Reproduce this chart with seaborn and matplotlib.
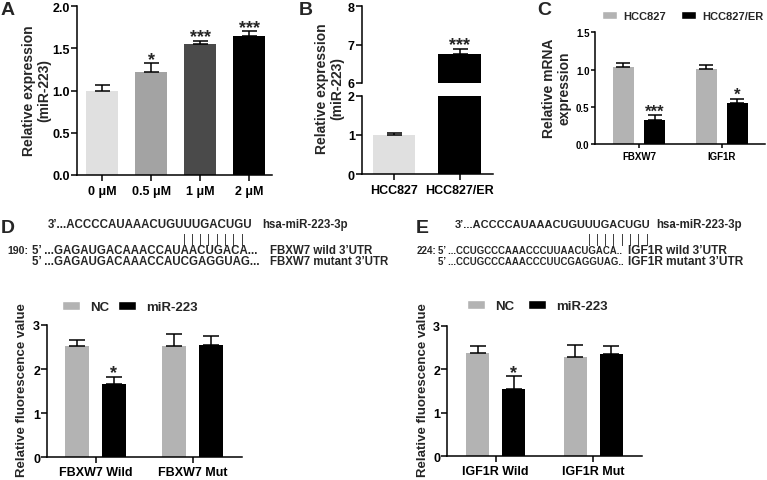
import os
import numpy as np
import pandas as pd
import matplotlib
matplotlib.use("Agg")
import matplotlib.pyplot as plt
from matplotlib import font_manager as fm
import seaborn as sns
from matplotlib.patches import Patch

# ---------------- data ----------------
a_doses = ["0 μM", "0.5 μM", "1 μM", "2 μM"]
a_values = [1.00, 1.22, 1.555, 1.645]
a_errors = [0.065, 0.10, 0.035, 0.055]
a_stars = ["", "*", "***", "***"]
a_colors = ["#e0e0e0", "#a3a3a3", "#4a4a4a", "#000000"]

b_cells = ["HCC827", "HCC827/ER"]
b_values = [1.00, 6.75]
b_errors = [0.04, 0.13]
b_stars = ["", "***"]
b_colors = ["#e0e0e0", "#000000"]

c_genes = ["FBXW7", "IGF1R"]
c_lines = ["HCC827", "HCC827/ER"]
c_hcc827 = [1.03, 1.01]
c_hcc827_err = [0.06, 0.05]
c_er = [0.32, 0.55]
c_er_err = [0.07, 0.06]
c_er_stars = ["***", "*"]

d_groups = ["FBXW7 Wild", "FBXW7 Mut"]
d_nc = [2.52, 2.52]
d_nc_err = [0.15, 0.27]
d_mir = [1.66, 2.54]
d_mir_err = [0.17, 0.22]
d_mir_stars = ["*", ""]

e_groups = ["IGF1R Wild", "IGF1R Mut"]
e_nc = [2.38, 2.29]
e_nc_err = [0.17, 0.28]
e_mir = [1.54, 2.36]
e_mir_err = [0.30, 0.19]
e_mir_stars = ["*", ""]

treat_levels = ["NC", "miR-223"]
gray = "#b3b3b3"


# ---------------- style ----------------
def pick_bold_family():
    for fam in ["Liberation Sans", "Arimo", "Roboto", "Noto Sans", "Open Sans", "Lato"]:
        try:
            p = fm.findfont(fm.FontProperties(family=fam, weight="bold"),
                            fallback_to_default=False)
        except Exception:
            continue
        name = os.path.basename(p).lower()
        if "bold" in name and "narrow" not in name and "condensed" not in name:
            return fam
    return "DejaVu Sans"


FAM = pick_bold_family()
sns.set_theme(style="ticks")
plt.rcParams["font.family"] = [FAM, "DejaVu Sans"]
plt.rcParams["font.weight"] = "bold"
plt.rcParams["axes.labelweight"] = "bold"
plt.rcParams["axes.linewidth"] = 1.1
plt.rcParams["axes.edgecolor"] = "black"
plt.rcParams["xtick.color"] = "black"
plt.rcParams["ytick.color"] = "black"

W, H = 767, 481
fig = plt.figure(figsize=(W / 100, H / 100), dpi=100)


def rect(x0, y0, x1, y1):
    return [x0 / W, 1 - y1 / H, (x1 - x0) / W, (y1 - y0) / H]


def fx(x):
    return x / W


def fy(y):
    return 1 - y / H


def style_ax(ax, lab=9, tl=4, ypad=1, xpad=3):
    sns.despine(ax=ax, top=True, right=True)
    ax.tick_params(axis="both", length=tl, width=1.1, labelsize=lab, direction="out")
    ax.tick_params(axis="y", pad=ypad)
    ax.tick_params(axis="x", pad=xpad)
    ax.set_xlabel("")
    ax.set_ylabel("")
    for t in ax.get_xticklabels() + ax.get_yticklabels():
        t.set_fontweight("bold")


def add_err(ax, container, values, errors, cap=5.4, lw=1.1):
    xs = [b.get_x() + b.get_width() / 2 for b in container]
    ax.errorbar(xs, values, yerr=[np.zeros(len(errors)), errors], fmt="none",
                ecolor="black", elinewidth=lw, capsize=cap, capthick=lw, zorder=3)
    return xs


def add_stars(ax, xs, values, errors, stars, size=13, off=-0.3):
    for x, v, e, s in zip(xs, values, errors, stars):
        if s:
            ax.annotate(s, (x, v + e), xytext=(0, off), textcoords="offset points",
                        ha="center", va="baseline", fontsize=size, fontweight="bold",
                        annotation_clip=False)


# ---------------- Panel A ----------------
axA = fig.add_axes(rect(77, 7, 272, 176))
dfA = pd.DataFrame({"dose": a_doses, "value": a_values})
sns.barplot(data=dfA, x="dose", y="value", hue="dose", palette=a_colors, width=0.65,
            errorbar=None, legend=False, saturation=1, linewidth=0, ax=axA)
axA.set_ylim(0, 2.0)
axA.set_xlim(-0.51, 3.46)
axA.set_yticks([0, 0.5, 1.0, 1.5, 2.0])
axA.set_yticklabels(["0.0", "0.5", "1.0", "1.5", "2.0"])
style_ax(axA)
xsA = []
for cont, v, e in zip(axA.containers, a_values, a_errors):
    xsA += add_err(axA, cont, [v], [e])
add_stars(axA, xsA, a_values, a_errors, a_stars)
fig.text(fx(37), fy(91), "Relative expression\n(miR-223)", rotation=90, ha="center",
         va="center", multialignment="center", fontsize=10, fontweight="bold",
         linespacing=1.1)
fig.text(fx(1), fy(2), "A", ha="left", va="top", fontsize=14, fontweight="bold")

# ---------------- Panel B (broken axis) ----------------
dfB = pd.DataFrame({"cell": b_cells, "value": b_values})
axB1 = fig.add_axes(rect(361.7, 7, 493, 84))
axB2 = fig.add_axes(rect(361.7, 96.7, 493, 175))
for ax in (axB1, axB2):
    sns.barplot(data=dfB, x="cell", y="value", hue="cell", palette=b_colors, width=0.65,
                errorbar=None, legend=False, saturation=1, linewidth=0, ax=ax)
    ax.set_xlim(-0.49, 1.51)
    xsB = []
    for cont, v, e in zip(ax.containers, b_values, b_errors):
        xsB += add_err(ax, cont, [v], [e])
axB1.set_ylim(6, 8)
axB1.set_yticks([6, 7, 8])
axB2.set_ylim(0, 2)
axB2.set_yticks([0, 1, 2])
style_ax(axB1)
style_ax(axB2)
axB1.spines["bottom"].set_visible(False)
axB1.tick_params(axis="x", bottom=False, labelbottom=False)
add_stars(axB1, xsB, b_values, b_errors, b_stars)
fig.text(fx(330), fy(89), "Relative expression\n(miR-223)", rotation=90, ha="center",
         va="center", multialignment="center", fontsize=10, fontweight="bold",
         linespacing=1.1)
fig.text(fx(299), fy(2), "B", ha="left", va="top", fontsize=14, fontweight="bold")

# ---------------- Panel C ----------------
axC = fig.add_axes(rect(595, 33.3, 765, 145))
dfC = pd.DataFrame({
    "gene": c_genes * 2,
    "line": [c_lines[0]] * 2 + [c_lines[1]] * 2,
    "value": c_hcc827 + c_er,
})
sns.barplot(data=dfC, x="gene", y="value", hue="line", hue_order=c_lines,
            palette=[gray, "#000000"], width=0.75, gap=0.33, errorbar=None,
            legend=False, saturation=1, linewidth=0, ax=axC)
axC.set_ylim(0, 1.5)
axC.set_xlim(-0.53, 1.52)
axC.set_yticks([0, 0.5, 1.0, 1.5])
axC.set_yticklabels(["0.0", "0.5", "1.0", "1.5"])
style_ax(axC, lab=7, tl=3, xpad=2)
add_err(axC, axC.containers[0], c_hcc827, c_hcc827_err, cap=5)
xsC = add_err(axC, axC.containers[1], c_er, c_er_err, cap=5)
add_stars(axC, xsC, c_er, c_er_err, c_er_stars, size=12, off=-0.3)
fig.text(fx(557), fy(88), "Relative mRNA\nexpression", rotation=90, ha="center",
         va="center", multialignment="center", fontsize=10, fontweight="bold",
         linespacing=1.1)
fig.text(fx(537), fy(2), "C", ha="left", va="top", fontsize=14, fontweight="bold")
fig.legend(handles=[Patch(facecolor=gray, label=c_lines[0]),
                    Patch(facecolor="#000000", label=c_lines[1])],
           loc="center left", bbox_to_anchor=(fx(602), fy(17)), ncol=2, frameon=False,
           prop={"size": 8, "weight": "bold"}, handlelength=1.35, handleheight=0.8,
           handletextpad=0.55, columnspacing=1.4, borderpad=0, borderaxespad=0)


# ---------------- Panels D and E : sequences ----------------
def seq_text(x, y, s, size=8.3):
    fig.text(fx(x), fy(y), s, ha="left", va="center", fontsize=size, fontweight="bold")


def pair_bars(x0, x1, y, n=8, size=8.3):
    for i in range(n):
        fig.text(fx(x0 + i * (x1 - x0) / (n - 1)), fy(y), "|", ha="center", va="center",
                 fontsize=size, fontweight="normal")


fig.text(fx(1), fy(220), "D", ha="left", va="top", fontsize=14, fontweight="bold")
seq_text(48, 225, "3’...ACCCCAUAAACUGUUUGACUGU")
seq_text(262, 225, "hsa-miR-223-3p")
pair_bars(184, 242, 240)
seq_text(7, 251, "190:", size=7.6)
seq_text(32, 251, "5’ ...GAGAUGACAAACCAUAACUGACA...")
seq_text(270, 251, "FBXW7 wild 3’UTR")
seq_text(32, 262, "5’ ...GAGAUGACAAACCAUCGAGGUAG...")
seq_text(270, 262, "FBXW7 mutant 3’UTR")

fig.text(fx(416), fy(220), "E", ha="left", va="top", fontsize=14, fontweight="bold")
seq_text(455, 225, "3’...ACCCCAUAAACUGUUUGACUGU", size=7.9)
seq_text(656, 225, "hsa-miR-223-3p")
pair_bars(589, 647, 240)
seq_text(417, 251, "224:", size=7)
seq_text(438, 251, "5’ ...CCUGCCCAAACCCUUAACUGACA..", size=6.9)
seq_text(628, 251, "IGF1R wild 3’UTR", size=8.6)
seq_text(438, 262, "5’ ...CCUGCCCAAACCCUUCGAGGUAG..", size=6.9)
seq_text(628, 262, "IGF1R mutant 3’UTR", size=8.6)


# ---------------- Panels D and E : luciferase bars ----------------
def lucif(ax, groups, nc, nc_err, mir, mir_err, stars, width, gap, xlim):
    df = pd.DataFrame({
        "group": groups * 2,
        "treat": [treat_levels[0]] * 2 + [treat_levels[1]] * 2,
        "value": nc + mir,
    })
    sns.barplot(data=df, x="group", y="value", hue="treat", hue_order=treat_levels,
                palette=[gray, "#000000"], width=width, gap=gap, errorbar=None,
                legend=False, saturation=1, linewidth=0, ax=ax)
    ax.set_ylim(0, 3)
    ax.set_xlim(*xlim)
    ax.set_yticks([0, 1, 2, 3])
    style_ax(ax, lab=9, tl=4, ypad=1, xpad=2.5)
    add_err(ax, ax.containers[0], nc, nc_err, cap=6)
    xs = add_err(ax, ax.containers[1], mir, mir_err, cap=6)
    add_stars(ax, xs, mir, mir_err, stars)


axD = fig.add_axes(rect(47, 326, 242, 458.3))
lucif(axD, d_groups, d_nc, d_nc_err, d_mir, d_mir_err, d_mir_stars, 0.76, 0.37, (-0.5, 1.51))
fig.text(fx(22), fy(390), "Relative fluorescence value", rotation=90, ha="center",
         va="center", fontsize=9.5, fontweight="bold")
fig.legend(handles=[Patch(facecolor=gray, label=treat_levels[0]),
                    Patch(facecolor="#000000", label=treat_levels[1])],
           loc="center left", bbox_to_anchor=(fx(62), fy(308)), ncol=2, frameon=False,
           prop={"size": 9.5, "weight": "bold"}, handlelength=1.36, handleheight=0.6,
           handletextpad=0.76, columnspacing=0.7, borderpad=0, borderaxespad=0)

axE = fig.add_axes(rect(447, 327, 642, 457.3))
lucif(axE, e_groups, e_nc, e_nc_err, e_mir, e_mir_err, e_mir_stars, 0.74, 0.36, (-0.5, 1.5))
fig.text(fx(422.5), fy(390), "Relative fluorescence value", rotation=90, ha="center",
         va="center", fontsize=9.5, fontweight="bold")
fig.legend(handles=[Patch(facecolor=gray, label=treat_levels[0]),
                    Patch(facecolor="#000000", label=treat_levels[1])],
           loc="center left", bbox_to_anchor=(fx(467), fy(307)), ncol=2, frameon=False,
           prop={"size": 9.5, "weight": "bold"}, handlelength=1.36, handleheight=0.6,
           handletextpad=0.76, columnspacing=1.06, borderpad=0, borderaxespad=0)

fig.savefig("out.png", dpi=100, facecolor="white")
